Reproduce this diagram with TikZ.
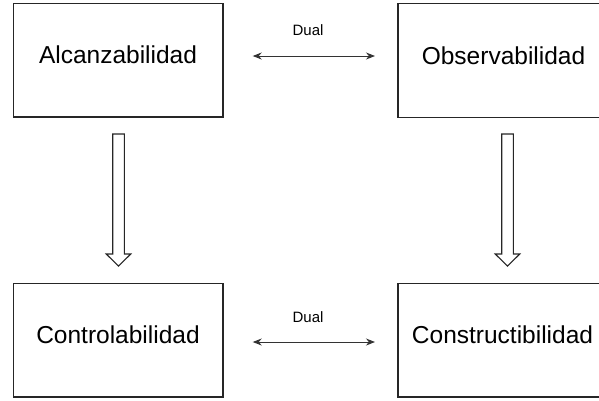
\documentclass[tikz,border=0pt]{standalone}
\usepackage{fontspec}
\setmainfont{Liberation Sans}
\usetikzlibrary{arrows.meta}
\begin{document}
\begin{tikzpicture}[x=1pt,y=-1pt,
 box/.style={draw=black!85,line width=1.2pt,minimum width=209.7pt,minimum height=113.7pt,inner sep=0pt,outer sep=0pt},
 boxtext/.style={anchor=base,font=\fontsize{24.5}{29}\selectfont,inner sep=0pt},
 duallabel/.style={anchor=base,font=\fontsize{15}{18}\selectfont,inner sep=0pt},
 dualarrow/.style={{Stealth[length=9pt,width=7pt]}-{Stealth[length=9pt,width=7pt]},line width=1pt,draw=black!80},
 hollow/.style={draw=black!85,line width=1.1pt,fill=white,line join=miter}]
\useasboundingbox (0,0) rectangle (599,400);
% boxes
\node[box] (A) at (118.2,60.2) {};
\node[box] (O) at (502.9,60.5) {};
\node[box] (C) at (118.2,340.2) {};
\node[box] (K) at (502.9,340.2) {};
% texts
\node[boxtext] (tA) at (118,63.3) {Alcanzabilidad};
\node[boxtext] (tO) at (503.5,64) {Observabilidad};
\node[boxtext] (tC) at (118,343.3) {Controlabilidad};
\node[boxtext] (tK) at (502.5,343.3) {Constructibilidad};
% dual arrows
\coordinate (d1) at (252.7,56);
\coordinate (d2) at (375,56);
\coordinate (d3) at (252.7,342);
\coordinate (d4) at (375,342);
\draw[dualarrow] (d1) -- (d2);
\draw[dualarrow] (d3) -- (d4);
\node[duallabel] (l1) at (308,35.7) {Dual};
\node[duallabel] (l2) at (308,322.7) {Dual};
% hollow arrows
\coordinate (h1) at (118.5,134);
\coordinate (h2) at (507.5,134);
\foreach \h in {h1,h2}{
 \begin{scope}[shift={(\h)}]
  \draw[hollow] (-5.8,0) -- (-5.8,120) -- (-12.3,120) -- (0,132) -- (12.3,120) -- (5.8,120) -- (5.8,0) -- cycle;
 \end{scope}
}
\end{tikzpicture}
\end{document}
